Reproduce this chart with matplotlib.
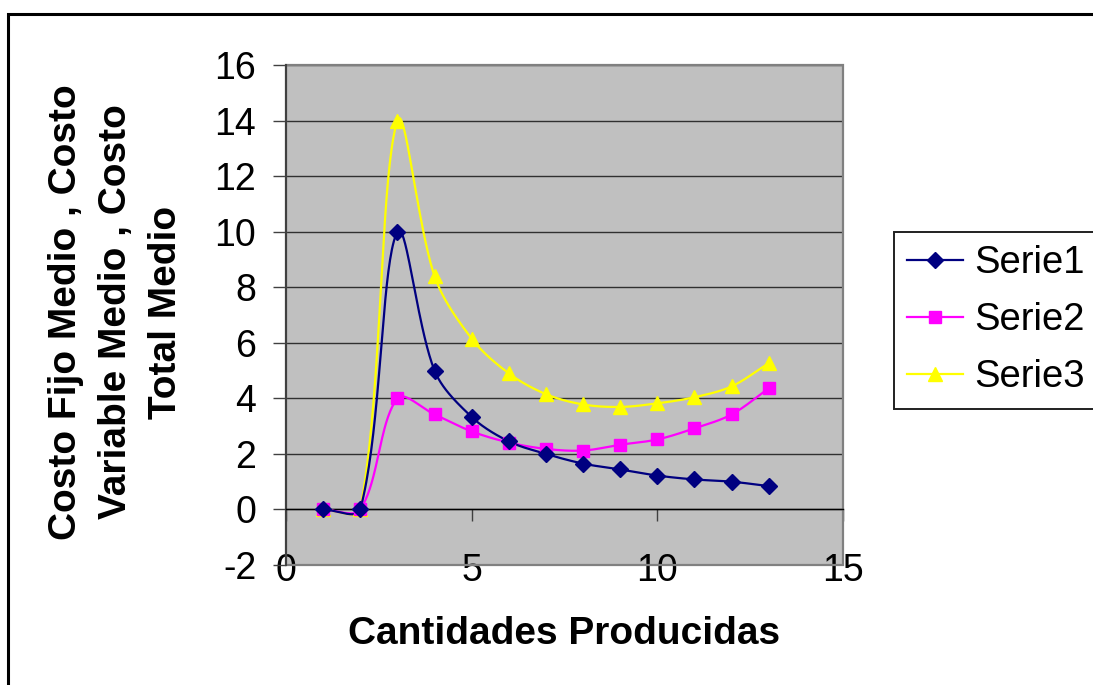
import numpy as np
import matplotlib
matplotlib.use("Agg")
import matplotlib.pyplot as plt
from matplotlib.patches import Rectangle
from matplotlib.lines import Line2D

# ---- data ----
x_vals = [1, 2, 3, 4, 5, 6, 7, 8, 9, 10, 11, 12, 13]
serie1 = [0, 0, 10.0, 5.0, 3.33, 2.45, 2.0, 1.65, 1.44, 1.22, 1.08, 1.0, 0.84]
serie2 = [0, 0, 4.0, 3.42, 2.81, 2.41, 2.18, 2.12, 2.33, 2.52, 2.92, 3.42, 4.36]
serie3 = [0, 0, 14.0, 8.4, 6.15, 4.9, 4.15, 3.78, 3.69, 3.82, 4.04, 4.43, 5.27]
labels = ["Serie1", "Serie2", "Serie3"]
x_ticks = [0, 5, 10, 15]
y_ticks = [-2, 0, 2, 4, 6, 8, 10, 12, 14, 16]
x_title = "Cantidades Producidas"
y_title = "Costo Fijo Medio , Costo\nVariable Medio , Costo\nTotal Medio"

colors = ["#000080", "#FF00FF", "#FFFF00"]
markers = ["D", "s", "^"]
msizes = [8.5, 9, 10.5]

plt.rcParams["font.family"] = ["Liberation Sans", "DejaVu Sans"]

W, H = 1093, 685
fig = plt.figure(figsize=(W / 100, H / 100), dpi=100)
L, R, T, B = 286, 843, 65, 565
ax = fig.add_axes([L / W, 1 - B / H, (R - L) / W, (B - T) / H])
ax.set_xlim(0, 15)
ax.set_ylim(-2, 16)
ax.set_facecolor("#C0C0C0")

# outer chart frame
fig.patches.append(Rectangle((7.5 / W, -0.1), 1.2, 1.1 - 13.5 / H,
                             transform=fig.transFigure, fill=False,
                             edgecolor="black", linewidth=2.2, zorder=0))

# plot area border
ax.add_patch(Rectangle((0, 0), 1, 1, transform=ax.transAxes, fill=False,
                       edgecolor="#808080", linewidth=1.6, zorder=1, clip_on=False))

for s in ["top", "right"]:
    ax.spines[s].set_visible(False)
ax.spines["left"].set_color("#404040")
ax.spines["left"].set_linewidth(1.5)
ax.spines["bottom"].set_position(("data", 0))
ax.spines["bottom"].set_color("black")
ax.spines["bottom"].set_linewidth(1.0)

ax.set_xticks(x_ticks)
ax.set_yticks(y_ticks)
ax.set_xticklabels([str(v) for v in x_ticks])
ax.set_yticklabels([str(v) for v in y_ticks])
ax.tick_params(axis="y", direction="out", length=9.4, width=1.0, color="#404040",
               pad=12, labelsize=27)
ax.tick_params(axis="x", direction="out", length=8.6, width=1.0, color="#404040",
               pad=23, labelsize=27)

ax.yaxis.grid(True, color="#303030", linewidth=1.0)
ax.set_axisbelow(True)


def excel_smooth(xs, ys, n=40):
    pts = ax.transData.transform(np.column_stack([xs, ys]))
    out = []
    m = len(pts)
    for i in range(m - 1):
        p0 = pts[i - 1] if i > 0 else pts[i]
        p1 = pts[i]
        p2 = pts[i + 1]
        p3 = pts[i + 2] if i + 2 < m else pts[i + 1]
        d01 = np.linalg.norm(p1 - p0)
        d12 = np.linalg.norm(p2 - p1)
        d23 = np.linalg.norm(p3 - p2)
        f1 = d12 / (d01 + d12) if d01 + d12 > 0 else 0
        f2 = d12 / (d12 + d23) if d12 + d23 > 0 else 0
        c1 = p1 + (p2 - p0) * f1 / 3
        c2 = p2 - (p3 - p1) * f2 / 3
        t = np.linspace(0, 1, n)[:, None]
        seg = ((1 - t) ** 3) * p1 + 3 * ((1 - t) ** 2) * t * c1 + 3 * (1 - t) * t ** 2 * c2 + t ** 3 * p2
        out.append(seg if i == 0 else seg[1:])
    out = np.vstack(out)
    d = ax.transData.inverted().transform(out)
    return d[:, 0], d[:, 1]


handles = []
for ys, c, mk, ms, lab, z in zip([serie1, serie2, serie3], colors, markers, msizes, labels, [5, 4, 3]):
    sx, sy = excel_smooth(x_vals, ys)
    ax.plot(sx, sy, color=c, linewidth=1.6, zorder=z, solid_capstyle="round")
    ax.plot(x_vals, ys, linestyle="none", marker=mk, markersize=ms, color=c,
            markeredgecolor=c, zorder=z + 3, clip_on=False)
    handles.append(Line2D([], [], color=c, linewidth=1.6, marker=mk, markersize=ms,
                          markeredgecolor=c, label=lab))

ax.set_xlabel(x_title, fontsize=28, fontweight="bold")
ax.xaxis.set_label_coords(0.5, (1 - 634 / H - (1 - B / H)) / ((B - T) / H))
ax.xaxis.label.set_va("center")
fig.text(116.5 / W, 1 - 312 / H, y_title, rotation=90, fontsize=28, fontweight="bold",
         ha="center", va="center", multialignment="center", linespacing=1.5)

leg = fig.legend(handles=handles, loc="upper left",
                 bbox_to_anchor=(894 / W, 1 - 232 / H), borderaxespad=0,
                 fontsize=27.5, handlelength=1.45, handletextpad=0.3,
                 labelspacing=0.55, borderpad=0.35, frameon=True, fancybox=False,
                 framealpha=1, edgecolor="#202020")
leg.get_frame().set_linewidth(1.4)

fig.savefig("out.png", dpi=100)
